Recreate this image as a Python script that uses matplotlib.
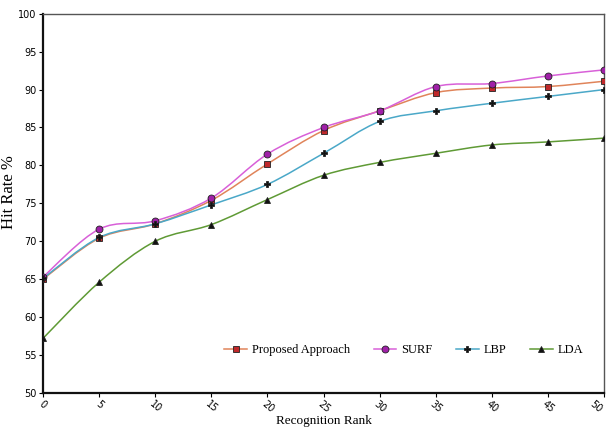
import numpy as np
import matplotlib
matplotlib.use('Agg')
import matplotlib.pyplot as plt
from matplotlib.path import Path
from matplotlib.patches import PathPatch
from matplotlib.lines import Line2D

rank = [0, 5, 10, 15, 20, 25, 30, 35, 40, 45, 50]
proposed = [65.0, 70.4, 72.3, 75.4, 80.2, 84.6, 87.2, 89.6, 90.2, 90.4, 91.1]
surf = [65.3, 71.6, 72.7, 75.7, 81.5, 85.0, 87.2, 90.4, 90.8, 91.8, 92.6]
lbp = [65.1, 70.5, 72.3, 74.8, 77.5, 81.6, 85.8, 87.2, 88.2, 89.1, 90.0]
lda = [57.2, 64.6, 70.0, 72.2, 75.5, 78.7, 80.4, 81.6, 82.7, 83.1, 83.6]

series = [
    ("Proposed Approach", proposed, "#e0845a", "s", "#c0282a", 5),
    ("SURF", surf, "#d860d8", "o", "#a020a8", 5),
    ("LBP", lbp, "#4aa8c8", "P", "#111111", 5),
    ("LDA", lda, "#5f9a35", "^", "#111111", 5),
]


def smooth_path(xs, ys):
    # Catmull-Rom through the data points, as cubic bezier segments
    xs = np.asarray(xs, float)
    ys = np.asarray(ys, float)
    verts = [(xs[0], ys[0])]
    codes = [Path.MOVETO]
    n = len(xs)
    for i in range(n - 1):
        x0, y0 = (xs[i - 1], ys[i - 1]) if i > 0 else (xs[i], ys[i])
        x1, y1 = xs[i], ys[i]
        x2, y2 = xs[i + 1], ys[i + 1]
        x3, y3 = (xs[i + 2], ys[i + 2]) if i + 2 < n else (x2, y2)
        verts += [(x1 + (x2 - x0) / 6, y1 + (y2 - y0) / 6),
                  (x2 - (x3 - x1) / 6, y2 - (y3 - y1) / 6),
                  (x2, y2)]
        codes += [Path.CURVE4] * 3
    return Path(verts, codes)


fig = plt.figure(figsize=(6.06, 4.29), dpi=100)
ax = fig.add_axes([0.071, 0.084, 0.926, 0.884])

handles = []
for name, vals, lc, mk, mc, ms in series:
    ax.add_patch(PathPatch(smooth_path(rank, vals), fill=False, edgecolor=lc, lw=1.1, zorder=2))
    ax.plot(rank, vals, linestyle='none', marker=mk, markersize=ms,
            markerfacecolor=mc, markeredgecolor='#222222', markeredgewidth=0.6, zorder=3)
    handles.append(Line2D([0], [0], color=lc, lw=1.1, marker=mk, markersize=ms,
                          markerfacecolor=mc, markeredgecolor='#222222', markeredgewidth=0.6))

ax.set_xlim(0, 50)
ax.set_ylim(50, 100)
ax.set_xticks(rank)
ax.set_yticks(range(50, 101, 5))
ax.tick_params(axis='both', labelsize=7, length=3, width=0.8, pad=1.5)
xlabs = ax.get_xticklabels()
for lab in xlabs:
    lab.set_rotation(-40)
    lab.set_ha('center')
xlabs[-1].set_ha('right')  # keep the last one inside the figure
for lab in ax.get_yticklabels():
    lab.set_family('Liberation Sans Narrow')

for s in ['left', 'bottom']:
    ax.spines[s].set_linewidth(1.6)
    ax.spines[s].set_color('#111111')
for s in ['top', 'right']:
    ax.spines[s].set_linewidth(1.0)
    ax.spines[s].set_color('#555555')

ax.set_ylabel("Hit Rate %", family='Liberation Serif', fontsize=12, labelpad=2)
ax.yaxis.set_label_coords(-0.046, 0.53)
ax.set_xlabel("Recognition Rank", family='Liberation Serif', fontsize=9.5, labelpad=0)

ax.legend(handles, [s[0] for s in series], loc='center', bbox_to_anchor=(0.643, 0.113),
          ncol=4, frameon=False, prop={'family': 'Liberation Serif', 'size': 9},
          handlelength=1.8, columnspacing=1.9, handletextpad=0.4)

fig.savefig('out.png', dpi=100)
